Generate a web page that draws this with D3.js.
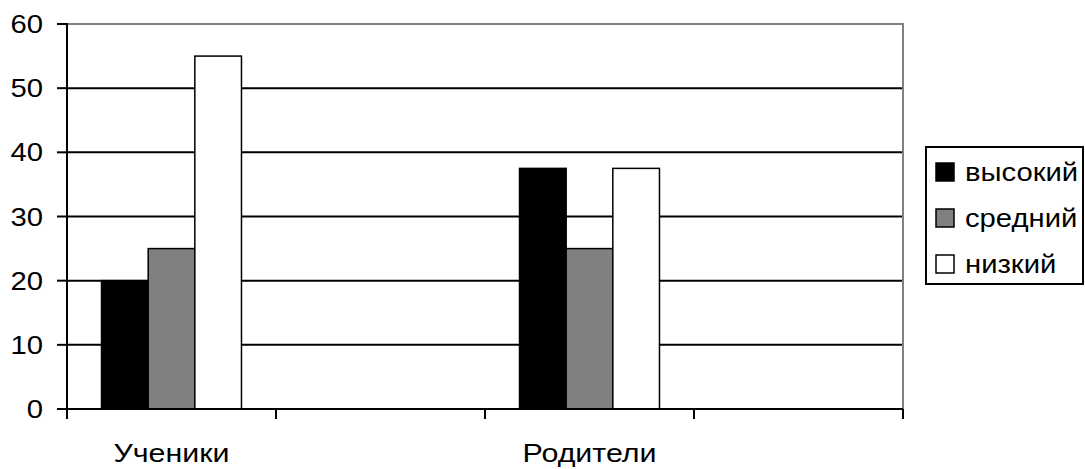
<!DOCTYPE html>
<html>
<head>
<meta charset="utf-8">
<script src="https://cdn.jsdelivr.net/npm/d3@7"></script>
<style>
  html, body { margin: 0; padding: 0; background: #fff; }
  svg { display: block; font-family: "Liberation Sans", Arial, sans-serif; }
</style>
</head>
<body>
<svg id="chart" width="1085" height="469"></svg>
<script>
// ---- data ----
const categories = ["Ученики", "", "Родители", ""];
const seriesNames = ["высокий", "средний", "низкий"];
const seriesColors = ["#000000", "#808080", "#ffffff"];
const valuesHigh = [20, null, 37.5, null];
const valuesMid = [25, null, 25, null];
const valuesLow = [55, null, 37.5, null];
const yTicks = [0, 10, 20, 30, 40, 50, 60];

const seriesValues = [valuesHigh, valuesMid, valuesLow];

const svg = d3.select("#chart");
const plot = { left: 67, right: 903, top: 24, bottom: 409 };
const stretch = 1.17;

const y = d3.scaleLinear().domain([0, 60]).range([plot.bottom, plot.top]);
const x = d3.scaleBand().domain(d3.range(categories.length)).range([plot.left, plot.right]).padding(0);
const xs = d3.scaleBand().domain(d3.range(seriesNames.length)).range([0, x.bandwidth()]).paddingInner(0).paddingOuter(0.74);

// gridlines
svg.append("g").selectAll("line").data(yTicks.filter(t => t > 0 && t < 60)).join("line")
  .attr("x1", plot.left).attr("x2", plot.right)
  .attr("y1", d => y(d)).attr("y2", d => y(d))
  .attr("stroke", "#000").attr("stroke-width", 2);

// plot border (top & right, gray)
svg.append("path")
  .attr("d", `M${plot.left},${y(60)}H${plot.right}V${plot.bottom}`)
  .attr("fill", "none").attr("stroke", "#808080").attr("stroke-width", 2);

// bars
const barData = [];
categories.forEach((c, ci) => {
  seriesValues.forEach((vals, si) => {
    if (vals[ci] != null) barData.push({ ci, si, v: vals[ci] });
  });
});
svg.append("g").selectAll("rect").data(barData).join("rect")
  .attr("x", d => x(d.ci) + xs(d.si))
  .attr("width", xs.bandwidth())
  .attr("y", d => y(d.v))
  .attr("height", d => y(0) - y(d.v))
  .attr("fill", d => seriesColors[d.si])
  .attr("stroke", "#000").attr("stroke-width", 1.5);

// y axis
const yAxis = svg.append("g");
yAxis.append("line").attr("x1", plot.left).attr("x2", plot.left)
  .attr("y1", y(60) - 1).attr("y2", plot.bottom + 10).attr("stroke", "#000").attr("stroke-width", 2);
yAxis.selectAll("line.tick").data(yTicks).join("line").attr("class", "tick")
  .attr("x1", plot.left - 10).attr("x2", plot.left)
  .attr("y1", d => y(d)).attr("y2", d => y(d))
  .attr("stroke", "#000").attr("stroke-width", 2);
yAxis.selectAll("text").data(yTicks).join("text")
  .attr("transform", d => `translate(43,${y(d) + 9}) scale(${stretch},1)`)
  .attr("text-anchor", "end")
  .attr("font-size", 25)
  .text(d => d);

// x axis
const xAxis = svg.append("g");
xAxis.append("line").attr("x1", plot.left).attr("x2", plot.right)
  .attr("y1", plot.bottom).attr("y2", plot.bottom).attr("stroke", "#000").attr("stroke-width", 2);
const xTickPos = d3.range(categories.length).map(i => x(i)).concat([x.range()[1]]);
xAxis.selectAll("line.tick").data(xTickPos).join("line").attr("class", "tick")
  .attr("x1", d => d).attr("x2", d => d)
  .attr("y1", plot.bottom).attr("y2", plot.bottom + 10)
  .attr("stroke", "#000").attr("stroke-width", 2);
xAxis.selectAll("text").data(categories).join("text")
  .attr("transform", (d, i) => `translate(${x(i) + x.bandwidth() / 2},462) scale(${stretch},1)`)
  .attr("text-anchor", "middle")
  .attr("font-size", 26)
  .text(d => d);

// legend
const legend = svg.append("g");
legend.append("rect").attr("x", 926).attr("y", 147).attr("width", 157).attr("height", 137)
  .attr("fill", "#fff").attr("stroke", "#000").attr("stroke-width", 2);
const items = legend.selectAll("g.item").data(seriesNames).join("g").attr("class", "item")
  .attr("transform", (d, i) => `translate(936,${172 + i * 46})`);
items.append("rect").attr("x", 0).attr("y", -9).attr("width", 18).attr("height", 18)
  .attr("fill", (d, i) => seriesColors[i]).attr("stroke", "#000").attr("stroke-width", 1.5);
items.append("text")
  .attr("transform", `translate(29,9) scale(${stretch},1)`)
  .attr("font-size", 25)
  .text(d => d);
</script>
</body>
</html>
